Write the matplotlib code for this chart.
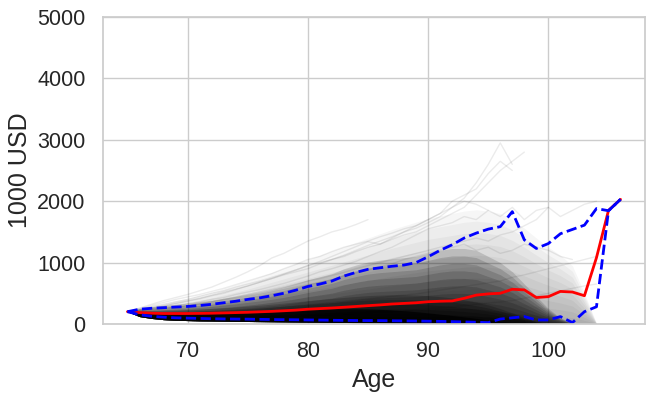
import numpy as np
import matplotlib
matplotlib.use('Agg')
import matplotlib.pyplot as plt
import seaborn as sns

# ages and summary lines
ages = list(range(65, 107))

median = [200, 185, 175, 170, 170, 170, 172, 175, 180, 185,
          190, 198, 205, 215, 225, 240, 250, 260, 272, 285,
          298, 310, 325, 335, 345, 362, 370, 375, 418, 470,
          490, 500, 565, 555, 430, 445, 530, 520, 460, 1080,
          1850, 2030]

upper = [200, 240, 255, 265, 275, 285, 300, 320, 345, 370,
         400, 425, 460, 500, 550, 610, 650, 700, 780, 840,
         890, 915, 940, 960, 1000, 1095, 1200, 1290, 1400, 1480,
         1545, 1585, 1830, 1370, 1230, 1310, 1470, 1540, 1610, 1880,
         1845, 2030]

lower = [200, 150, 125, 110, 100, 95, 90, 85, 82, 80,
         78, 75, 72, 70, 68, 65, 63, 60, 58, 56,
         55, 54, 52, 50, 48, 45, 42, 38, 33, 28,
         22, 80, 100, 120, 65, 65, 120, 22, 200, 280,
         1845, 2030]

# density of the simulated paths (estimated envelopes, ages 65..104)
cloud_ages = list(range(65, 105))
cloud_floor = [200, 120, 90, 70, 60, 55, 50, 48, 45, 42,
               40, 38, 36, 34, 32, 30, 28, 26, 24, 22,
               20, 18, 16, 15, 14, 12, 10, 10, 10, 10,
               10, 10, 10, 10, 10, 10, 10, 10, 10, 10]
haze_top = [200, 260, 300, 340, 380, 420, 470, 520, 580, 640,
            700, 770, 840, 910, 980, 1050, 1120, 1190, 1260, 1330,
            1400, 1470, 1540, 1600, 1660, 1720, 1760, 1800, 1840, 1860,
            1840, 1800, 1700, 1560, 1400, 1250, 1120, 950, 500, 10]
mid_top = [200, 255, 280, 300, 320, 340, 365, 390, 420, 450,
           485, 520, 560, 605, 660, 720, 770, 820, 900, 960,
           1010, 1040, 1060, 1080, 1100, 1150, 1200, 1230, 1230, 1200,
           1100, 1000, 850, 650, 450, 250, 100, 10, 10, 10]
core_top = [200, 215, 220, 225, 230, 236, 244, 254, 264, 276,
            290, 305, 322, 340, 360, 380, 398, 415, 432, 448,
            462, 470, 475, 475, 470, 460, 445, 425, 395, 355,
            310, 250, 180, 100, 40, 10, 10, 10, 10, 10]
dense_top = [200, 185, 178, 175, 175, 176, 178, 182, 187, 192,
             198, 205, 212, 220, 228, 236, 242, 246, 248, 248,
             245, 238, 228, 215, 200, 180, 160, 138, 115, 90,
             65, 40, 20, 10, 10, 10, 10, 10, 10, 10]

# a few of the outlying single paths
path_a = [200, 240, 280, 320, 360, 400, 450, 500, 540, 600, 650, 700, 760, 820,
          880, 950, 1000, 1050, 1120, 1200, 1280, 1350, 1420, 1500, 1560, 1650,
          1750, 1900, 2050, 2300, 2600, 2950, 2600]
path_b = [200, 230, 260, 300, 340, 380, 420, 470, 520, 570, 620, 680, 740, 800,
          850, 900, 980, 1050, 1100, 1180, 1250, 1300, 1380, 1450, 1500, 1600,
          1700, 1800, 1900, 2100, 2300, 2500, 2650, 2800]
path_c = [200, 250, 300, 350, 400, 440, 480, 530, 580, 640, 700, 760, 820, 900,
          970, 1050, 1100, 1180, 1250, 1300, 1350, 1420, 1480, 1550, 1600, 1700,
          1800, 1900, 2000, 1950, 1850]
path_d = [200, 260, 320, 380, 430, 480, 540, 600, 680, 760, 850, 950, 1075, 1150,
          1250, 1350, 1420, 1500, 1550, 1620, 1700]
path_e = [200, 220, 250, 280, 300, 330, 360, 400, 430, 480, 520, 560, 610, 660,
          720, 780, 850, 900, 960, 1020, 1100, 1180, 1250, 1350, 1450, 1550,
          1600, 1650, 1750, 1700, 1850, 1750, 1900, 1700, 1850, 1900]
path_f = [200, 210, 230, 250, 270, 300, 330, 360, 400, 440, 480, 520, 560, 600,
          650, 700, 740, 790, 840, 900, 950, 1000, 1050, 1100, 1150, 1200, 1250,
          1300, 1350, 1400, 1350, 1450, 1500, 1600, 1700, 1900, 1750, 1850, 1950, 2000]
path_g = [200, 230, 260, 290, 330, 370, 410, 460, 500, 560, 620, 680, 740, 810,
          880, 950, 1020, 1100, 1180, 1260, 1340, 1300, 1400, 1500, 1600, 1700,
          1800, 2000, 2100, 2200, 2450, 2650, 2500]
path_h = [200, 220, 240, 260, 280, 300, 330, 360, 390, 420, 450, 480, 520, 560,
          600, 640, 680, 720, 780, 830, 880, 930, 980, 1050, 1100, 1150, 1200,
          1250, 1300, 1200, 1250, 1150, 1200, 1300, 1250, 1200, 1100, 1050]
path_i = [200, 190, 180, 175, 170, 170, 175, 180, 190, 200, 215, 230, 250, 270,
          290, 310, 330, 350, 370, 390, 410, 430, 450, 470, 490, 520, 550, 580,
          610, 640, 670, 700, 760, 800, 850, 900, 950, 1000, 1050, 1100]
path_j = [200, 180, 165, 150, 140, 135, 130, 128, 126, 125, 125, 126, 128, 130,
          135, 140, 148, 156, 165, 175, 185, 195, 205, 215, 230, 245, 260, 280,
          300, 320, 340, 360, 380, 420, 460, 500, 540, 580, 620, 650]
paths = [path_a, path_b, path_c, path_d, path_e, path_f, path_g, path_h, path_i, path_j]

sns.set_theme(style='whitegrid', context='talk')
plt.rcParams['font.family'] = ['Liberation Sans', 'DejaVu Sans']

fig, ax = plt.subplots(figsize=(6.55, 3.97), dpi=100)
fig.subplots_adjust(left=0.157, right=0.985, bottom=0.184, top=0.957)


def shade(top, steps, alpha):
    # stacked translucent layers so the band fades out towards its top
    lo = np.array(cloud_floor, dtype=float)
    hi = np.array(top, dtype=float)
    for f in np.linspace(1.0 / steps, 1.0, steps):
        ax.fill_between(cloud_ages, lo, lo + f * (hi - lo),
                        color='black', alpha=alpha, lw=0)


# the cloud of simulated paths
shade(haze_top, 10, 0.035)
shade(mid_top, 10, 0.14)
shade(core_top, 6, 0.2)
ax.fill_between(cloud_ages, cloud_floor, dense_top, color='black', alpha=0.75, lw=0)
for p in paths:
    ax.plot(ages[:len(p)], p, color='black', alpha=0.08, lw=1)

ax.plot(ages, median, color='red', lw=2)
ax.plot(ages, upper, color='blue', lw=2, ls='--')
ax.plot(ages, lower, color='blue', lw=2, ls='--')

ax.set_ylim(0, 5000)
ax.set_yticks([0, 1000, 2000, 3000, 4000, 5000])
ax.set_xticks([70, 80, 90, 100])
ax.grid(True, lw=1, color='#cccccc')
for s in ax.spines.values():
    s.set_linewidth(1.25)
    s.set_color('#cccccc')
ax.tick_params(labelsize=15.5)
ax.set_xlabel('Age', fontsize=18)
ax.set_ylabel('1000 USD', fontsize=18)

fig.savefig('out.png', dpi=100)
